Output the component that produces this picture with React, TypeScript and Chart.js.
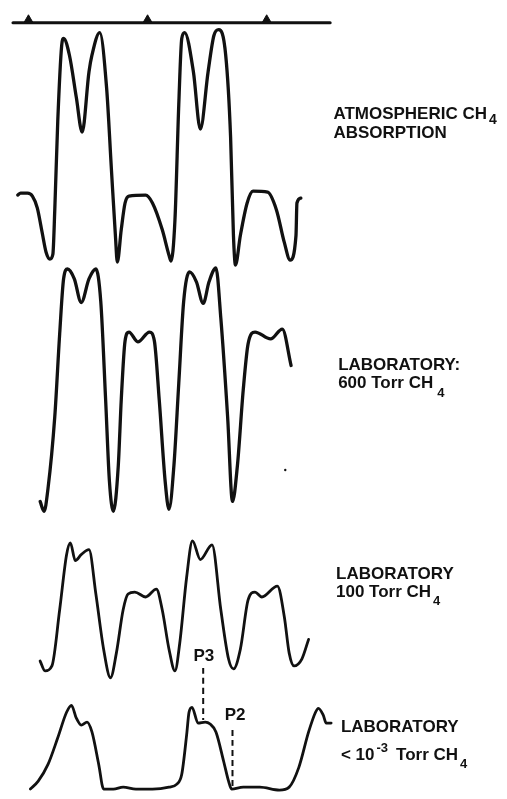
import React, { useEffect, useRef } from "react";
import { Chart, registerables } from "chart.js";

Chart.register(...registerables);

// ---------- data (x: frequency-marker units, markers at 0/100/200; y: relative signal) ----------
const markerPositions = [0, 100, 200];
const markerLineX = [-13, 253.3];

const atmX = [-9, -6.6, -0.8, 3.3, 7.4, 11.5, 14.8, 18, 20.5, 22.1, 24.6, 27.9, 29.5, 34.4, 40.2, 45.1, 50.8, 53.3, 59.8, 65.6, 69.7, 73, 74.6, 77.9, 81.1, 84.4, 98.4, 104.1, 112.3, 118, 119.7, 123, 126.2, 128.7, 131.1, 138.5, 144.3, 150.8, 155.7, 159.8, 165.6, 169.7, 172.1, 173.8, 177.9, 183.6, 188.5, 200.8, 208.2, 214.8, 219.7, 224.6, 225.4, 228.7];
const atmY = [28.4, 29.2, 29.2, 28.0, 23.2, 13.2, 5.2, 2.4, 4.4, 22.4, 58.4, 89.2, 92.0, 85.2, 68.0, 54.0, 78.4, 85.2, 94.4, 72.0, 38.4, 12.0, 1.2, 14.4, 25.2, 28.0, 28.4, 25.2, 14.4, 4.0, 1.6, 18.4, 65.2, 92.0, 94.4, 78.4, 55.2, 78.4, 93.2, 95.6, 85.2, 52.0, 12.0, 0, 12.0, 25.2, 30.0, 29.6, 22.4, 9.2, 2.0, 12.0, 25.2, 27.2];

const t600X = [9.8, 13.1, 16.4, 22.1, 26.2, 29.5, 32.8, 38.5, 44.3, 50.8, 56.6, 60.7, 64.8, 68.0, 71.3, 75.4, 77.9, 81.1, 84.4, 91.8, 101.6, 105.7, 109.8, 114.8, 118.0, 122.1, 126.2, 130.3, 135.2, 141.0, 146.7, 151.6, 157.4, 161.5, 167.2, 171.3, 175.4, 180.3, 184.4, 190.2, 203.3, 213.1, 220.5];
const t600Y = [4.0, 0, 9.2, 38.4, 72.0, 94.4, 98.4, 94.4, 84.8, 94.4, 98.4, 85.2, 45.2, 12.0, 0, 18.4, 45.2, 69.2, 72.8, 68.8, 72.8, 69.2, 45.2, 12.0, 0.8, 18.4, 52.0, 85.2, 97.2, 93.2, 84.4, 93.2, 98.8, 78.4, 38.4, 4.0, 18.4, 49.2, 68.0, 72.8, 70.0, 74.0, 59.2];
const specksX = [215.6];
const specksY = [16.8];

const t100X = [9.8, 13.9, 19.7, 26.2, 32.0, 35.2, 39.3, 44.3, 50.8, 56.6, 63.1, 68.9, 73.8, 79.5, 83.6, 89.3, 98.4, 107.4, 112.3, 118.0, 123.0, 127.0, 132.8, 137.7, 144.3, 154.1, 161.5, 168.0, 172.1, 177.9, 184.4, 190.2, 195.9, 209.0, 214.8, 218.9, 223.0, 229.5, 235.2];
const t100Y = [6.8, 2.8, 4.8, 27.6, 50.0, 54.8, 47.6, 50.0, 52.0, 34.0, 11.6, 0, 10.0, 27.6, 34.0, 34.8, 32.8, 36.0, 27.6, 11.6, 2.8, 14.0, 40.8, 55.6, 48.0, 54.0, 27.6, 7.6, 3.6, 11.6, 31.6, 34.8, 32.8, 37.2, 24.8, 10.0, 4.8, 7.6, 15.6];

const lowX = [1.6, 8.2, 16.4, 24.6, 32.0, 36.1, 40.2, 44.3, 49.2, 53.3, 59.0, 63.1, 71.3, 79.5, 90.2, 104.1, 118.0, 124.6, 128.7, 132.8, 134.8, 137.3, 142.4, 148.4, 152.5, 157.4, 163.9, 168.0, 170.5, 180.3, 194.3, 210.7, 218.9, 227.0, 235.2, 241.0, 243.4, 247.5, 250.0, 254.1];
const lowY = [0.4, 3.6, 10.4, 21.2, 31.6, 34.4, 29.2, 26.4, 27.6, 23.6, 10.4, 0.4, 0.4, 1.2, 0.4, 0.4, 1.2, 2.4, 6.4, 22.4, 31.6, 33.6, 27.2, 27.6, 26.8, 23.6, 11.6, 3.6, 0.4, 1.2, 1.2, 0, 1.2, 9.2, 23.6, 31.6, 33.2, 30.4, 27.2, 27.2];

const p3X = [146.7, 146.7];
const p3Y = [49.6, 28.4];
const p2X = [171.3, 171.3];
const p2Y = [24.4, 0];

// ---------- layout ----------
const W = 507;
const H = 799;
const X_ORIGIN_PX = 23;
const PX_PER_X = 1.22;
const PX_PER_Y = 2.5;
const BASE_MARK = 17;
const BASE_ATM = 263;
const BASE_600 = 513;
const BASE_100 = 682;
const BASE_LOW = 796;

const INK = "#111";
const FONT_FAMILY = '"Liberation Sans", Arial, sans-serif';

type Run = { t: string; size?: number; dx?: number; dy?: number };
type LabelBlock = { axis: string; x: number; y: number; gap?: number; size?: number; lines: Run[][] };

const LABELS: LabelBlock[] = [
  { axis: "yAtm", x: 256, y: 59.2, gap: 19, lines: [[{ t: "ATMOSPHERIC CH" }, { t: "4", size: 14, dx: 2, dy: 5 }], [{ t: "ABSORPTION" }]] },
  { axis: "y600", x: 260, y: 57.2, gap: 18, lines: [[{ t: "LABORATORY:" }], [{ t: "600 Torr CH" }, { t: "4", size: 13, dx: 4, dy: 9 }]] },
  { axis: "y100", x: 258.2, y: 40, gap: 18, lines: [[{ t: "LABORATORY" }], [{ t: "100 Torr CH" }, { t: "4", size: 13, dx: 2, dy: 8 }]] },
  { axis: "yLow", x: 262.3, y: 23.6, gap: 28, lines: [[{ t: "LABORATORY" }], [{ t: "< 10" }, { t: "-3", size: 13, dx: 2, dy: -8 }, { t: "Torr CH", dx: 8 }, { t: "4", size: 13, dx: 2, dy: 8 }]] },
  { axis: "yLow", x: 138.5, y: 52.4, size: 17, lines: [[{ t: "P3" }]] },
  { axis: "yLow", x: 164.8, y: 28.4, size: 17, lines: [[{ t: "P2" }]] },
];

const zip = (xs: number[], ys: number[]) => xs.map((x, i) => ({ x, y: ys[i] }));

const bandAxis = (basePx: number) => ({
  type: "linear" as const,
  display: false,
  min: (basePx - H) / PX_PER_Y,
  max: basePx / PX_PER_Y,
});

const labelPlugin = {
  id: "traceLabels",
  afterDatasetsDraw(chart: any) {
    const ctx = chart.ctx as CanvasRenderingContext2D;
    const xs = chart.scales.x;
    ctx.save();
    ctx.fillStyle = INK;
    ctx.textBaseline = "alphabetic";
    ctx.textAlign = "left";
    for (const block of LABELS) {
      const ys = chart.scales[block.axis];
      const x0 = xs.getPixelForValue(block.x);
      const y0 = ys.getPixelForValue(block.y);
      block.lines.forEach((line, li) => {
        let x = x0;
        const y = y0 + li * (block.gap || 0);
        for (const run of line) {
          const size = run.size || block.size || 17;
          ctx.font = `bold ${size}px ${FONT_FAMILY}`;
          x += run.dx || 0;
          ctx.fillText(run.t, x, y + (run.dy || 0));
          x += ctx.measureText(run.t).width;
        }
      });
    }
    ctx.restore();
  },
};

const traceStyle = (width: number) => ({
  borderColor: INK,
  borderWidth: width,
  pointRadius: 0,
  fill: false,
  cubicInterpolationMode: "monotone" as const,
  borderJoinStyle: "round" as const,
  borderCapStyle: "round" as const,
});

export default function App() {
  const ref = useRef<HTMLCanvasElement>(null);

  useEffect(() => {
    if (!ref.current) return;
    const chart = new Chart(ref.current, {
      type: "line",
      data: {
        datasets: [
          { label: "markers line", data: zip(markerLineX, [0, 0]), yAxisID: "yMark", ...traceStyle(3), tension: 0 },
          {
            label: "markers",
            data: markerPositions.map((x) => ({ x, y: 1.2 })),
            yAxisID: "yMark",
            showLine: false,
            pointStyle: "triangle",
            pointRadius: 5,
            pointBackgroundColor: INK,
            pointBorderColor: INK,
            pointBorderWidth: 1,
          },
          { label: "Atmospheric CH4 absorption", data: zip(atmX, atmY), yAxisID: "yAtm", ...traceStyle(3.3) },
          { label: "Laboratory 600 Torr", data: zip(t600X, t600Y), yAxisID: "y600", ...traceStyle(3.3) },
          {
            label: "speck",
            data: zip(specksX, specksY),
            yAxisID: "y600",
            showLine: false,
            pointRadius: 1.2,
            pointBackgroundColor: INK,
            pointBorderWidth: 0,
          },
          { label: "Laboratory 100 Torr", data: zip(t100X, t100Y), yAxisID: "y100", ...traceStyle(2.8) },
          { label: "Laboratory <1e-3 Torr", data: zip(lowX, lowY), yAxisID: "yLow", ...traceStyle(2.8) },
          { label: "P3", data: zip(p3X, p3Y), yAxisID: "yLow", ...traceStyle(2), borderDash: [6, 4], borderCapStyle: "butt" as const },
          { label: "P2", data: zip(p2X, p2Y), yAxisID: "yLow", ...traceStyle(2), borderDash: [6, 4], borderCapStyle: "butt" as const },
        ] as any,
      },
      options: {
        animation: false,
        responsive: false,
        events: [],
        layout: { padding: 0 },
        plugins: { legend: { display: false }, tooltip: { enabled: false }, title: { display: false } },
        scales: {
          x: { type: "linear", display: false, min: -X_ORIGIN_PX / PX_PER_X, max: (W - X_ORIGIN_PX) / PX_PER_X },
          yMark: bandAxis(BASE_MARK),
          yAtm: bandAxis(BASE_ATM),
          y600: bandAxis(BASE_600),
          y100: bandAxis(BASE_100),
          yLow: bandAxis(BASE_LOW),
        },
      },
      plugins: [labelPlugin],
    });
    return () => chart.destroy();
  }, []);

  return (
    <div style={{ position: "absolute", left: 0, top: 0, width: W, height: H, background: "#fff" }}>
      <canvas ref={ref} width={W} height={H} style={{ display: "block", width: W, height: H }} />
    </div>
  );
}
